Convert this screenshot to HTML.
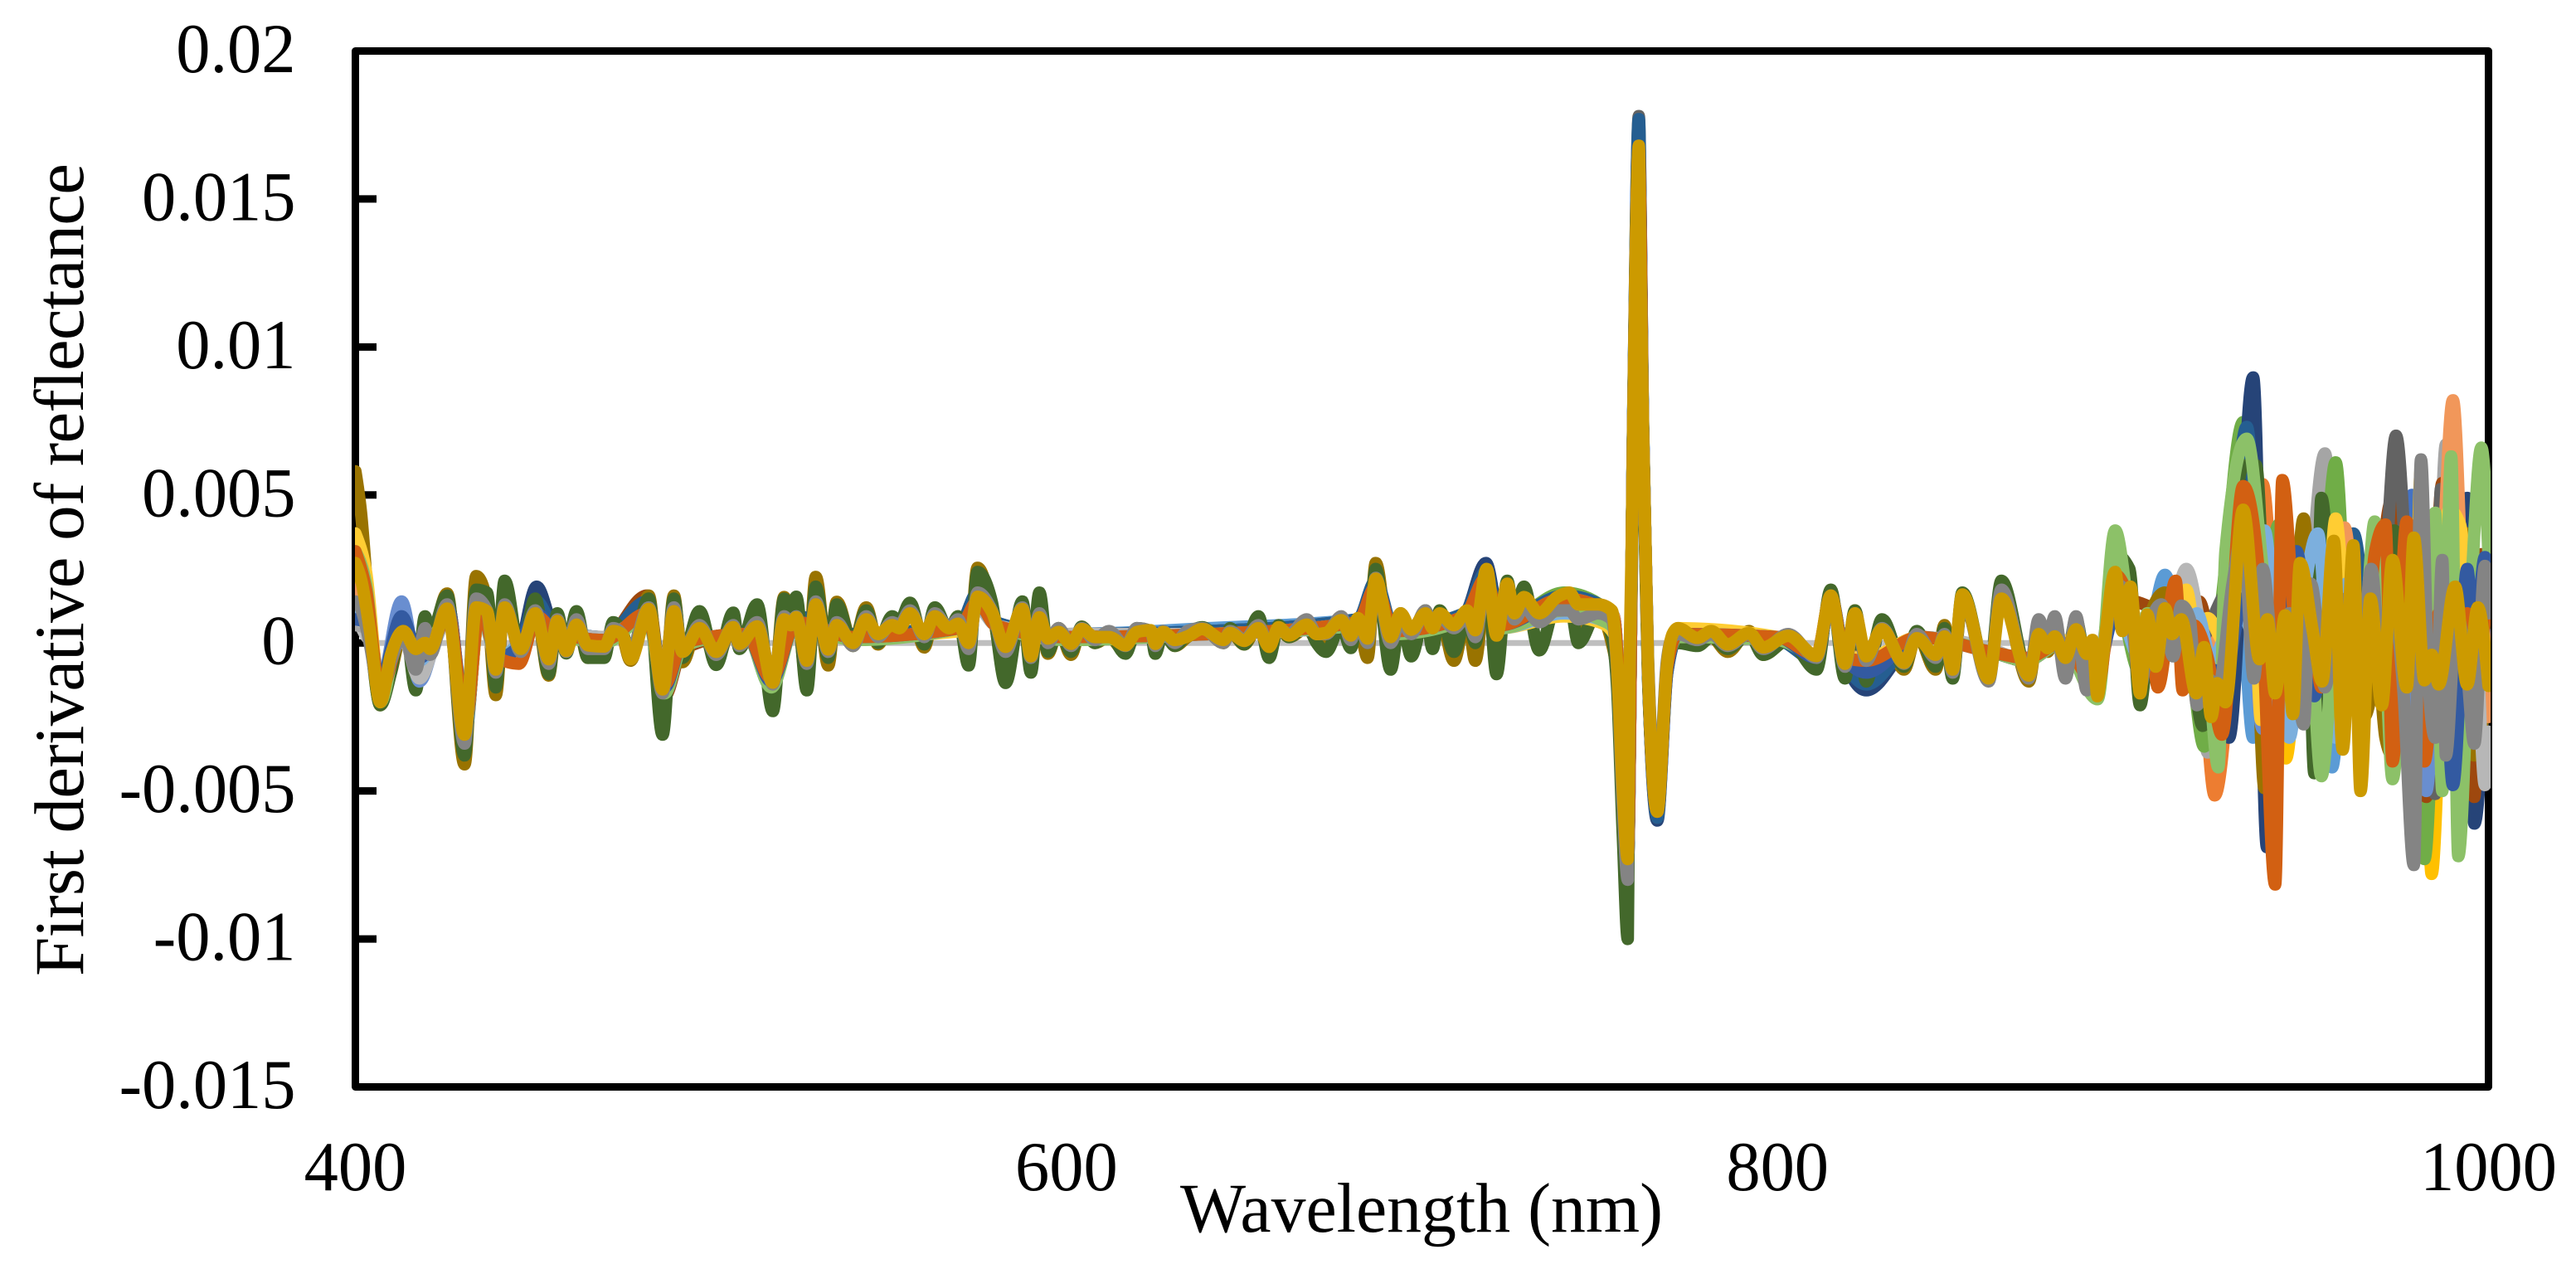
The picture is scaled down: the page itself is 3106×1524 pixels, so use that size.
<!DOCTYPE html>
<html lang="en">
<head>
<meta charset="utf-8">
<title>First derivative of reflectance</title>
<style>
html,body{margin:0;padding:0;background:#fff;}
svg{display:block;}
text{font-family:"Liberation Serif","Times New Roman",serif;fill:#000;}
</style>
</head>
<body>
<svg id="chart" xmlns="http://www.w3.org/2000/svg" width="3106" height="1524" viewBox="0 0 3106 1524">
<rect x="0" y="0" width="3106" height="1524" fill="#fff"/>
<defs><clipPath id="plotClip"><rect x="428" y="40" width="2575" height="1290"/></clipPath></defs>
<rect x="428.5" y="61.5" width="2572" height="1249" fill="none" stroke="#000" stroke-width="9" stroke-linejoin="round"/>
<g id="yAxis"></g>
<g id="xAxis"></g>
<g id="lines" clip-path="url(#plotClip)" fill="none" stroke-linecap="round" stroke-linejoin="round"></g>
<text transform="translate(100,1177) rotate(-90)" font-size="85" textLength="980" lengthAdjust="spacing">First derivative of reflectance</text>
<text x="1423" y="1485" font-size="85" textLength="582" lengthAdjust="spacingAndGlyphs">Wavelength (nm)</text>
</svg>
<script>
// Values are in units of 1e-4 (first derivative of reflectance); wavelengths in nm.
const yTickValues = [0.02, 0.015, 0.01, 0.005, 0, -0.005, -0.01, -0.015];
const yTickLabels = ["0.02", "0.015", "0.01", "0.005", "0", "-0.005", "-0.01", "-0.015"];
const xTickValues = [400, 600, 800, 1000];
const xTickLabels = ["400", "600", "800", "1000"];

const gridWl = [
400,401.5,404,407,410,413.5,417,419.6,421,425.8,
430.7,434,437,439.5,442,446.5,450.6,454.4,456.8,459.3,
462.2,465.4,470,472.5,475,477.4,482.5,486.4,489.6,492,
496.8,501.5,506.3,508,513,517.4,520.6,522.5,524,527,
529.5,533,535.4,540,543.7,547,551,553,556,560,
563,567,569.5,572.5,575,579,582.9,587.6,590,592.4,
594.8,597.8,601.3,604.3,608,612,616.6,619.8,623.7,625,
627.2,630.5,634,638.2,644.2,646,650,654,657,659.7,
662.6,667.6,670.4,673,677.3,680,682,684.7,687,691.2,
694,697,701,703,705,709,712.7,715,718.2,721,
724,726,728.7,733,738,741.5,744,749.6,753.4,754.9,
756.5,757.9,758.4,759,759.4,760.1,761,761.4,762.2,762.9,
763.6,766.2,768.9,770.5,772,777.5,781.4,786,792,796,
803,811,815,819,821.8,825,829.4,835.6,839.2,844.5,
847,849.3,852,859.4,863,870.7,873.5,876,878,881,
884,887,888.6,890,891.5];

const sparseWl = [
400,403,407,413,418,423,426,431,435,440,
446,451,456,470,482,487,492,510,517,524,
540,570,575,580,600,640,682,687,692,712,
718,722,740,750,754,757.9,759.4,761,762.2,763.6,
766.2,769,772,800,811,815,819,825,840,860,
870,880];

// Reference line hugging zero
const flatWl = [400,404,500,700,800,900,1000];
const flatVal = [7,0,0,0,0,0,0];

// Main series on the dense grid
const goldVal = [
27,22,5,-20,-4,4,-2,0,-2,11.6,
-31,12,10.7,-9,12,-2,10,-5.5,7.4,-2.7,
6.2,-0.8,-1.2,4,3,-5.5,11.5,-15.7,10.7,-3,
5,-3,5.3,-0.3,5.6,-13.4,8,6,8.7,-6,
13,-2.2,6,0,8,3,6,5,10,3,
9,5,6.5,0,15.6,10.6,-1.3,11.5,-4.5,8.7,
1.5,3.7,-0.3,4.7,2,2,-0.8,3.7,4.3,-0.3,
3.7,1,2.2,4.7,1,3.4,0.7,5,-1.3,5.3,
2.5,6.2,3,3.4,7.7,2.5,8.4,1.5,21.7,2,
10,4.5,10,5,10,6,11,4.3,25,2.5,
20,10,15.5,10,15.5,17,13,13,11,-7.6,
-50,-73,-7.6,32,71,130,168,130,71,32,
-7.6,-57,-7.6,3,5,1.7,4,-0.5,3.4,-1.5,
2.4,-4.4,16,-7,10,-4.5,4.6,-6.7,1.6,-4,
2.2,-9,16.4,-12,15,-11,3,-1.8,2.2,-5,
4.6,-3.7,1,-18,-5,
24,4,19,-17,9.6,-8,11.7,3,8,-17,
-1.4,-25,-13.6,-20,45,-5.5,8,-17,9.3,-24,
27,4.5,-13,34.5,-36,33,-50,15,-21,28,
-15,35.6,-12.6,-4,-14,19,-14,12,-14.5];
const goldTailWl = [
895,897,899.3,902,904,906.4,909,911,913.6,917.8,
920,922,923.7,926,931,935.6,937.8,940,942.8,945,
947,950.5,953.2,956.5,959,962,964,966.8,970,973,
977,979,982,984,986,990.6,994,997,1000];

const greenVal = [
25,22,3,-21,-10,11,-16,9,2,16,
-38,18,17,-15,21,-5,15,-10.5,10,-3.5,
10.7,-5,-5,7,4,-4,15,-31,15,-5,
10.7,-7.4,10.2,-2,13,-23,15,10,15.6,-16,
19,-5,13,-1,11,0,9,7,13.6,-0.5,
12,4,9,-7.6,24,14,-13.5,14,-10,17,
-3,5,-3,5.5,0,3,-3.6,5,4,-3.6,
4,-1,3,5.3,0,5,-0.5,9,-5,6,
2,6,0,-3,6,-1.7,8,0,25,-9,
10,-4.5,11,-2,11,-3,10,0,24,-10.5,
21,8,19,-2.5,14,14,0,11,2,-15,
-65,-100,-25,20,65,115,155,115,65,25,
-12,-56,-10,-1,0,-1,2,-2,3,-4,
1,-9,18,-12,11,-13,8,-8,4,-8,
5,-12,17,-12,21,-11,6,-2,6,-7,
8,-8,0,-14,-3,
30,25,-21,6,8,3,-3,-28,-10,25,
60,60,-10,15,-20,20,-44,49,-5,15,
-20,20,-10,38,-5,20,-10,15,-20,10,
-5,5];
const greenTailWl = [
895,899,902,905,908,912,916,919.6,923,927,
931,934.6,938,941,945,949,951,953,957,960,
964,968,971,973.5,977,980,983,986,990,994,
997,1000];

const oliveVal = [
58,45,8,-21,-10,5,-6,3,0,16.7,
-41,22.6,14,-17.6,16,-4,13,-11,9,-3,
9,-5,-4,6,3,-6,16,-27,16,-6.5,
8,-6,7,-1.5,8,-20,15.5,10,13,-14,
22.3,-7.6,13.9,-1,12,-0.5,8,6,13,-1.5,
11,4,9,-3,25.4,12,-10,13,-8,12,
-3.6,5,-4,5.5,0,2,-3,4,4,-3,
4,-1,2,5,0,4,-0.5,6,-3,5,
2,5,1,0,6,0,8,-5,27,-4,
9,-1,10,2,10,-6,11,-6,22,-7,
19,8,15,8,13,12,5,10,0,-12,
-60,-90,-18,25,68,122,160,122,68,28,
-10,-56,-9,0,1,0,2,-3,4,-4,
1,-7,17,-9,11,-9,7,-9,3,-9,
6,-11,15,-11,17,-13,5,-3,4,-6,
6,-7,0,-15,-4,
20,15,-16,10,17,5,-5,-12,-5,20,
35,25,-49,20,-15,42,-5,5,-15,10,
-25,-10,-32,-38,10,-5,25,15,37,-38,
-10];
const oliveTailWl = [
895,899,902,905,909,912,916,920,924,927,
931,934,937,941,944,948,951,954,958,961,
965,969,971,973,977,981,985,988,994,996,
1000];

const greyVal = [
14,12,0,-18,-6,3,-9,5,-4,13,
-34,15,11,-10,13,-3,11,-7,8,-3,
8,-2,-2,5,3,-3,12,-17,12,-3,
6,-4,6,-1,7,-14,9,6,9,-7,
14,-3,7,-1,9,2,7,6,11,2,
10,5,8,-2,17,11,-3,12,-5,10,
0,5,-1,5,1,4,-1,5,4,-1,
4,0,4,5,0,4,1,6,-1,5,
3,8,3,3,9,1,8,0,22,0,
8,3,11,5,9,5,9,2,22,5,
15,8,12,7,11,11,8,10,8,-9,
-55,-80,-12,28,70,125,165,128,72,33,
-5,-54,-6,2,3,1,3,-1,3,-2,
3,-5,16,-8,10,-6,5,-7,3,-5,
3,-10,16,-13,18,-12,8,0,9,-12,
9,-16,-3,-17,-5,
20,15,-15,7,13,-4.5,12.6,8,-21,-12,
-15,20,38,-12,25,-10,10,-27.5,20,-15,
8,15,-12,25,-10,15,-15,-75,62,-10,
-32,28,-38,10,-10,-34,26,10];
const greyTailWl = [
895,899,902,905,908,911.3,913.6,916,918,921,
924,928,931,934,936.5,940,944,948,950,954,
957,960,964,967,970,973,976,979,981,983,
985,987,988,991,994,996,999,1000];

// Lighter-weight series on the sparse grid plus their own tails
const blue1Val = [10,8,-14,4,-3,3,10,-24,12,-4,-1,9,4,1,9,-14,0,3,-11,7,2,5,13,6,2,4,7,19,4,9,20,6,13,12,8,-74,70,166,70,-8,-57,-8,3,2,-4,14,-5,-6,2,-3,-5,0,
-5,10,0,5,-5,30,-15,10,-5,10,-10,10,-10,50,-5,15,-5,10,0];
const blue1TailWl = [890,895,905,915,925,932,938,945,952,958,965,972,975,978.5,982,988,993,998,1000];

const orangeVal = [8,6,-16,3,-5,3,10,-26,11,-5,-1,9,3,1,9,-13,-1,3,-12,7,2,5,14,6,2,3,7,20,4,9,21,6,14,12,8,-72,70,165,70,-8,-56,-8,2,2,-4,14,-4,-5,2,-3,-5,0,
-10,12,3,2,-5,-51.5,25,53.6,-10,15,-5,10,-10,15,-10,10,-15,5,-15,5,0];
const orangeTailWl = [890,895,905,915,919,923,930,936.5,941,946,951,956,961,966,971,976,982,987,992,997,1000];

const silverVal = [6,5,-12,2,-8,2,11,-25,12,-6,-1,9,4,2,10,-14,-1,3,-12,6,2,5,13,6,3,4,7,18,4,9,19,6,13,11,7,-70,68,164,70,-6,-55,-7,4,2,-4,14,-5,-7,2,-2,-6,0,
-8,18,8,0,8,-5,-37,25,-10,15,-10,64,-5,10,-5,15,-5,10,-10,67,-5,10,-5];
const silverTailWl = [890,895,900,905,912,918,921,930,936,941,947,954,958,963,968,972,977,982,985,988,992,996,1000];

const amberVal = [20,14,-18,4,-2,3,10,-27,11,-5,0,9,4,1,9,-15,0,3,-11,7,2,5,14,6,2,3,7,19,4,10,22,6,14,12,7,-72,71,167,71,-9,-58,-8,3,2,-4,15,-5,-6,2,-3,-5,0,
-8,15,5,5,-15,20,40,-10,-39,20,-5,15,-10,10,-5,10,-10,59,-78,15,-10,20,0];
const amberTailWl = [890,895,905,915,921,928,935,938,943,948,953,957,962,966,970,975,979,981,984,988,993,998,1000];

const skyVal = [12,9,-13,6,-5,4,11,-26,13,-5,-1,10,5,2,10,-16,-1,3,-15,8,3,6,14,7,3,5,8,18,5,10,20,7,16,13,9,-75,72,168,72,-9,-58,-9,2,2,-5,15,-5,-9,2,-3,-6,0,
-5,12,3,23,-3,-10,10,20,-32,5,10,-5,10,-42,10,-10,5,15,-10,5,-10,15,-15];
const skyTailWl = [890,895,904,909,914,920,926,930,933.8,938,943,948,952,956,960,964,970,975,980,985,990,995,1000];

const leafVal = [16,12,-16,5,-4,4,12,-28,13,-5,-1,10,4,1,10,-16,-1,3,-13,8,2,5,15,6,2,4,7,20,4,10,21,6,17,13,9,-75,72,170,72,-9,-58,-9,3,1,-4,15,-5,-8,2,-3,-6,0,
-10,17,-10,5,3,-5,-35,15,74.6,5,40,-10,-5,61,-10,5,-10,15,-5,-73,10,-15,5,0];
const leafTailWl = [890,895,902,905,912,916,920,925,931,936,941,946,952,957,961,966,971,975,979,982,986,991,996,1000];

const navyVal = [8,7,-16,6,-8,4,13,-28,14,-6,-2,19,5,2,13,-15,-1,3,-13,9,3,6,17,7,3,4,8,20,5,10,27,7,15,13,9,-72,73,172,73,-10,-60,-10,2,1,-6,15,-6,-16,2,-3,-6,0,
-10,15,10,-5,5,5,-15,0,-32,89.7,-69,10,20,-10,5,15,-10,10,-15,20,-5,25,-15,10,49,-61,20];
const navyTailWl = [890,895,900,905,910,915,920,924,927,933.8,937.7,941,945,949,953,958,962,966,970,974,977,981,985,989,994,996,1000];

const rustVal = [14,11,-17,3,-5,3,13,-29,14,-6,-3,13,4,1,16,-18,-2,3,-14,8,2,5,16,6,2,3,7,21,4,10,22,6,15,12,8,-73,72,170,72,-9,-58,-9,2,1,-5,15,-5,-10,2,-3,-6,0,
-5,15,12,5,4,14,-5,10,50,30,-10,-5,15,-5,10,-15,5,48,0,-52,54,10,-52,30,-10];
const rustTailWl = [890,895,905,910,914,918.6,923,927,931,935,938,943,948,953,958,963,968,972.7,977,982.5,987,991,996,998,1000];

const charcoalVal = [10,8,-15,3,-5,3,12,-27,13,-5,-2,12,4,1,13,-16,-1,3,-13,8,2,5,15,6,2,4,7,20,4,10,23,6,14,12,8,-75,73,178,73,-9,-59,-9,3,1,-5,16,-5,-9,2,-3,-6,0,
-8,15,0,15,2,0,15,30,-5,5,-10,15,0,-5,10,70,5,-15,-51,52,5,15,-5];
const charcoalTailWl = [890,895,903,908,912,918,925,932,938,945,950,955,960,965,970,974,978,982,985,986.6,991,995,1000];

const steelVal = [14,11,-18,5,-7,4,13,-30,15,-6,-2,14,5,2,14,-17,-1,3,-14,9,3,6,17,7,3,4,8,21,5,10,24,7,16,13,9,-76,74,177,74,-10,-59,-10,2,1,-6,16,-6,-14,2,-3,-6,0,
-8,12,3,5,-5,10,73,-10,10,25,-5,10,37,5,-5,10,-10,5,-5,10,5];
const steelTailWl = [890,895,905,915,921,926,932,937,942,947,951,957,962,966,970,975,980,985,990,995,1000];

const periwinkleVal = [15,10,-14,14,-13,3,11,-26,12,-5,-1,9,4,1,9,-14,0,3,-13,7,2,5,14,6,2,3,7,19,4,9,20,6,14,12,9,-72,71,168,71,-8,-57,-8,3,2,-4,15,-5,-7,2,-3,-5,0,
-5,12,5,3,-5,15,15,-29,5,15,-5,5,-5,10,5,-10,-50,5,-5,10,0];
const periwinkleTailWl = [890,895,905,915,922,928,932,936.5,941,946,952,957,963,968,973,978,982.5,986,991,996,1000];

const peachVal = [18,15,-14,5,-3,3,10,-26,11,-5,0,8,4,1,9,-14,0,3,-12,7,2,5,13,6,2,3,7,18,4,9,20,6,15,12,9,-72,71,166,71,-8,-56,-8,3,2,-4,14,-4,-5,2,-3,-5,0,
-8,15,0,10,-5,0,15,0,-10,15,-5,0,39,-10,8,0,10,-10,5,82,-10,10,-25];
const peachTailWl = [890,895,905,912,918,923,930,936,941,946,952,955,959.5,964,968,972,977,982,986,990,994,998,1000];

const ashVal = [8,6,-10,3,-12,2,9,-22,11,-6,-1,8,4,2,9,-12,-1,3,-11,6,2,5,12,6,3,3,6,17,4,9,19,6,12,11,7,-68,67,162,68,-6,-54,-6,4,2,-4,14,-5,-5,2,-2,-6,0,
-5,18,10,3,5,25,0,-10,15,-5,5,5,0,10,0,10,5,10,10,0,-10,10,-48,-30];
const ashTailWl = [890,895,900,905,910,915,920,925,930,936,942,948,953,958,963,968,973,978,983,987,992,996,999,1000];

const honeyVal = [37,24,-17,4,-5,3,10,-27,11,-5,0,8,4,1,9,-14,0,3,-11,7,2,4,13,6,2,3,7,18,4,9,20,5,9,7,3,-72,71,166,71,-8,-56,-7,5,2,-4,15,-5,-5,2,-3,-5,1,
-7,16,6,5,6,18,0,8.4,0,30,51,-26,10,-5,15,0,42,-10,5,-5,10,-10,15,45,40,-10,20];
const honeyTailWl = [890,895,900,905,910,915,918,921,926,931,933,936,941,946,950,954,957,961,965,970,975,980,985,989,992,996,1000];

const paleBlueVal = [10,8,-12,3,-6,3,10,-24,11,-5,0,8,4,1,9,-15,-1,3,-14,7,2,5,13,6,2,3,6,18,4,8,20,5,10,8,5,-72,70,165,70,-8,-56,-8,3,2,-4,14,-5,-8,2,-3,-5,0,
-10,14,-5,5,6,5,10,-5,0,38,5,38,-15,-32,15,37,-10,-32,20,5,-5,10,0,10,-5,10,25,10];
const paleBlueTailWl = [890,895,902,906,912,915,918,922,925,928,933,937,941,944,948,952,955,957,960,965,970,975,980,985,990,996,999,1000];

const paleGreenVal = [31,20,-20,7,-5,4,10,-28,12,-5,-1,8,4,0,9,-17,-1,3,-15,7,1,5,14,6,1,3,6,19,3,8,21,5,11,8,5,-72,71,166,71,-8,-55,-8,2,1,-4,15,-5,-8,2,-3,-6,0,
-19,38,10,-5,10,8,5,5,-8,-42,31,69,20,-15,10,18,-45,5,15,5,41,-5,-46,10,-5,44,-50,63,-72,15,66,30];
const paleGreenTailWl = [890,895,899,902,904,908,912,917,921,924,926,932,937,942,946,949,953,957,961,965,968,971,973,977,980,985,987,989.5,991.5,995,998,1000];

const royalVal = [8,7,-13,9,-5,3,12,-26,13,-5,-1,10,4,1,10,-15,0,3,-13,7,2,5,14,6,2,3,7,19,4,9,21,6,14,12,8,-73,72,168,72,-9,-57,-9,3,2,-5,15,-5,-10,2,-3,-5,0,
-8,10,3,5,0,-8,-10,15,-10,10,31,-18,10,0,-5,10,-5,15,-10,-15,10,-48,25,0,29,20];
const royalTailWl = [890,895,905,912,916,921,926,931,936,941,946,951,955,960,964,968,971,975,980,983,987,990,994,996,999,1000];

const burntVal = [31,18,-16,2,-4,3,11,-27,12,-5,-7,9,4,1,10,-14,0,3,-12,7,2,5,14,6,2,3,7,19,4,9,22,6,15,12,8,-72,71,167,71,-8,-57,-8,3,2,-4,16,-5,-6,2,-3,-5,0,
-15,23,13,-12,8,-15,21,-16,6,-5,-31,53,15,-81.6,55,5,10,-15,5,-5,-10,30,40,-40,41,-40,10,-5,10,-5,20];
const burntTailWl = [890,895,899,902,904.5,907,912,914,917,921,925,931,936,940,942,946,950,953,957,961,965,968,971,973,977,982,986,990,994,997,1000];

// Drawing order, bottom to top
const seriesNames = ["zero-line","blue","orange","silver","amber","sky","leaf","navy","rust","charcoal","olive","steel","green","periwinkle","peach","ash","honey","pale-blue","pale-green","royal","burnt","grey","gold"];
const seriesColors = ["#BFBFBF","#4472C4","#ED7D31","#A5A5A5","#FFC000","#5B9BD5","#70AD47","#264478","#9E480E","#636363","#997300","#255E91","#43682B","#698ED0","#F1975A","#B7B7B7","#FFCD33","#7CAFDD","#8CC168","#335AA1","#D26012","#848484","#CC9A00"];
const seriesWl = [flatWl, sparseWl.concat(blue1TailWl), sparseWl.concat(orangeTailWl), sparseWl.concat(silverTailWl), sparseWl.concat(amberTailWl), sparseWl.concat(skyTailWl), sparseWl.concat(leafTailWl), sparseWl.concat(navyTailWl), sparseWl.concat(rustTailWl), sparseWl.concat(charcoalTailWl), gridWl.concat(oliveTailWl), sparseWl.concat(steelTailWl), gridWl.concat(greenTailWl), sparseWl.concat(periwinkleTailWl), sparseWl.concat(peachTailWl), sparseWl.concat(ashTailWl), sparseWl.concat(honeyTailWl), sparseWl.concat(paleBlueTailWl), sparseWl.concat(paleGreenTailWl), sparseWl.concat(royalTailWl), sparseWl.concat(burntTailWl), gridWl.concat(greyTailWl), gridWl.concat(goldTailWl)];
const seriesVal = [flatVal, blue1Val, orangeVal, silverVal, amberVal, skyVal, leafVal, navyVal, rustVal, charcoalVal, oliveVal, steelVal, greenVal, periwinkleVal, peachVal, ashVal, honeyVal, paleBlueVal, paleGreenVal, royalVal, burntVal, greyVal, goldVal];

const SVG_NS = "http://www.w3.org/2000/svg";
const xLeft = 428.5, xRight = 3000.5, yTop = 61.5, yBottom = 1310.5;
function xScale(w) { return xLeft + (w - 400) / (1000 - 400) * (xRight - xLeft); }
function yScale(v) { return yTop + (0.02 - v) / (0.02 - (-0.015)) * (yBottom - yTop); }

function monotonePath(xs, ys) {
  const n = xs.length;
  const slope = [], step = [];
  for (let i = 0; i < n - 1; i++) {
    step.push(xs[i + 1] - xs[i]);
    slope.push((ys[i + 1] - ys[i]) / step[i]);
  }
  const tan = new Array(n).fill(0);
  for (let i = 1; i < n - 1; i++) {
    const s0 = slope[i - 1], s1 = slope[i], h0 = step[i - 1], h1 = step[i];
    const p = (s0 * h1 + s1 * h0) / (h0 + h1);
    tan[i] = (Math.sign(s0) + Math.sign(s1)) * Math.min(Math.abs(s0), Math.abs(s1), 0.5 * Math.abs(p));
  }
  tan[0] = (3 * slope[0] - tan[1]) / 2;
  tan[n - 1] = (3 * slope[n - 2] - tan[n - 2]) / 2;
  let d = "M" + xs[0].toFixed(1) + " " + ys[0].toFixed(1);
  for (let i = 0; i < n - 1; i++) {
    const dx = step[i] / 3;
    d += "C" + (xs[i] + dx).toFixed(1) + " " + (ys[i] + dx * tan[i]).toFixed(1) + " " +
         (xs[i + 1] - dx).toFixed(1) + " " + (ys[i + 1] - dx * tan[i + 1]).toFixed(1) + " " +
         xs[i + 1].toFixed(1) + " " + ys[i + 1].toFixed(1);
  }
  return d;
}

const yAxisGroup = document.getElementById("yAxis");
yTickValues.forEach(function (v, i) {
  const y = yScale(v);
  const tick = document.createElementNS(SVG_NS, "line");
  
  
  tick.setAttribute("x1", xLeft);
  tick.setAttribute("x2", 454);
  tick.setAttribute("y1", y);
  tick.setAttribute("y2", y);
  tick.setAttribute("stroke", "#000");
  tick.setAttribute("stroke-width", 9);
  yAxisGroup.appendChild(tick);
  const label = document.createElementNS(SVG_NS, "text");
  
  
  label.setAttribute("transform", "translate(356.5," + (y + 25.5) + ") scale(0.97,1)");
  label.setAttribute("text-anchor", "end");
  label.setAttribute("font-size", 85);
  label.textContent = yTickLabels[i];
  yAxisGroup.appendChild(label);
});

const xAxisGroup = document.getElementById("xAxis");
xTickValues.forEach(function (w, i) {
  const label = document.createElementNS(SVG_NS, "text");
  
  
  label.setAttribute("transform", "translate(" + xScale(w) + ",1435) scale(0.97,1)");
  label.setAttribute("text-anchor", "middle");
  label.setAttribute("font-size", 85);
  label.textContent = xTickLabels[i];
  xAxisGroup.appendChild(label);
});

const linesGroup = document.getElementById("lines");
seriesNames.forEach(function (name, i) {
  const wl = seriesWl[i], vals = seriesVal[i];
  const n = Math.min(wl.length, vals.length);
  const xs = [], ys = [];
  for (let k = 0; k < n; k++) {
    xs.push(xScale(wl[k]));
    ys.push(yScale(vals[k] * 1e-4));
  }
  const path = document.createElementNS(SVG_NS, "path");
  
  
  path.setAttribute("data-series", name);
  path.setAttribute("d", monotonePath(xs, ys));
  path.setAttribute("stroke", seriesColors[i]);
  path.setAttribute("stroke-width", i === 0 ? 7 : 15);
  linesGroup.appendChild(path);
});
</script>
</body>
</html>
